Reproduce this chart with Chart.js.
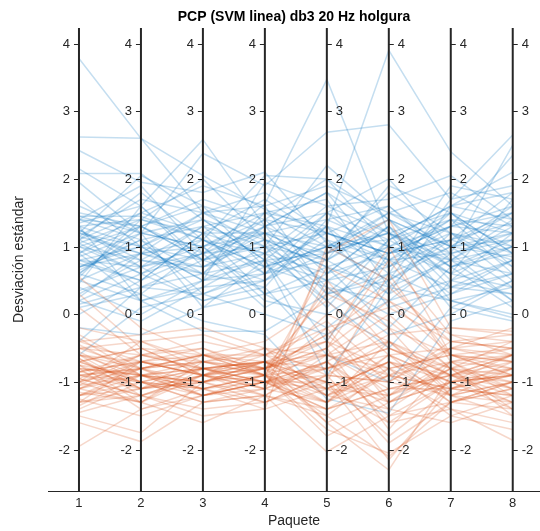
<!DOCTYPE html>
<html>
<head>
<meta charset="utf-8">
<script src="https://cdn.jsdelivr.net/npm/chart.js@4.4.0/dist/chart.umd.min.js"></script>
<style>
  html, body { margin: 0; padding: 0; background: #fff; }
  #wrap { width: 540px; height: 531px; position: relative; }
</style>
</head>
<body>
<div id="wrap"><canvas id="pcp"></canvas></div>
<script>
// Paquetes (ejes paralelos) y marcas del eje Y
const paquetes = [1, 2, 3, 4, 5, 6, 7, 8];
const yTicks = [-2, -1, 0, 1, 2, 3, 4];

// Clase azul (desviación estándar por paquete)
const claseAzul = [
    [3.78, 2.60, 2.05, 1.55, 1.20, 0.90, 1.10, 1.35],
    [2.62, 2.60, 1.50, 1.20, 0.80, 1.40, 1.00, 0.85],
    [2.42, 1.95, 1.80, 2.10, 1.05, 0.70, 1.50, 1.20],
    [2.08, 2.08, 1.40, 0.80, 1.50, 1.10, 0.60, 1.70],
    [2.15, 1.60, 2.58, 1.30, 0.90, 1.20, 0.80, 1.00],
    [1.95, 1.20, 2.38, 1.90, 2.69, 2.80, 1.70, 2.65],
    [1.40, 1.90, 0.90, 1.63, 3.47, 1.20, 0.90, 2.50],
    [1.10, 0.70, 1.30, 1.50, 1.30, 3.90, 2.40, 1.60],
    [1.45, 1.45, 1.10, 2.05, 2.00, 1.00, 1.30, 2.35],
    [1.20, 1.00, 0.50, 1.95, 1.60, 1.70, 2.05, 1.40],
    [0.90, 1.30, 1.60, 0.70, 0.40, 0.20, 0.90, 1.10],
    [0.30, 0.80, 0.70, 1.10, 0.90, 1.50, 1.20, 0.70],
    [1.00, 0.60, 0.20, 0.50, 1.10, 0.80, 0.40, 0.30],
    [0.60, 1.20, 1.00, 0.30, -0.20, 0.50, 1.00, 1.50],
    [1.30, 1.40, 1.20, 1.20, 1.00, 1.10, 1.60, 1.80],
    [0.20, -0.10, 0.40, 0.90, 1.30, 0.60, 0.20, 0.00],
    [0.80, 0.50, 0.90, 0.10, 0.60, 1.30, 0.70, 0.90],
    [1.15, 1.70, 1.50, 1.00, 0.50, 0.00, 0.30, 0.60],
    [0.50, 0.20, -0.25, -0.25, 0.30, 1.10, 1.40, 1.00],
    [-0.40, 0.40, 0.80, 1.30, 1.80, 1.20, 0.60, 0.40],
    [1.40, 1.10, 0.60, 0.40, -0.60, -1.00, 0.10, 0.50],
    [0.70, 0.90, 1.10, 0.90, 0.20, -0.50, 0.50, 1.20],
    [1.00, 1.30, 0.80, 1.40, 1.20, 0.90, 1.10, 0.80],
    [0.40, 0.00, 0.50, 0.60, 1.00, 1.50, 1.80, 1.30],
    [1.60, 1.20, 1.40, 1.10, 0.70, 0.40, 0.80, 0.20],
    [-0.60, 0.10, 0.30, 0.00, -0.30, 0.20, 0.50, 0.80],
    [0.90, 1.50, 1.90, 1.60, 1.90, 1.50, 1.00, 1.60],
    [1.25, 0.80, 0.60, 0.80, 0.50, 0.70, 1.30, 1.50],
    [0.10, 0.30, 1.00, 1.20, 0.80, 1.90, 1.50, 0.90],
    [0.60, 0.30, -0.10, -0.30, -1.25, -1.46, -0.10, 0.20],
    [1.05, 0.60, 0.90, 1.20, 1.40, 1.00, 0.60, 1.00],
    [0.80, 1.00, 1.40, 0.80, 0.90, 1.80, 1.20, 0.50],
    [1.35, 1.60, 0.70, 0.90, 1.60, 1.20, 0.10, -0.10],
    [0.00, 0.50, 1.20, 1.70, 1.10, 0.30, 0.80, 1.40],
    [1.20, 0.90, 1.00, 0.20, 0.00, 0.60, 1.90, 1.70],
    [0.70, 1.10, 0.30, 0.60, 1.50, 2.00, 1.00, 1.10],
    [1.50, 1.30, 1.70, 1.40, 0.60, 0.90, 1.40, 0.60],
    [0.35, 0.70, 0.90, 1.00, 2.20, 1.40, 0.50, 0.30],
    [0.95, 0.40, 0.60, 1.30, 0.40, -0.30, 0.00, 0.50],
    [1.10, 1.80, 1.10, 0.70, 1.00, 0.50, 1.70, 1.90],
    [0.55, 1.40, 2.00, 1.10, 0.20, 0.80, 0.90, 1.20],
    [1.30, 0.20, 0.40, 0.50, 0.90, 1.20, 0.70, 0.10],
    [0.25, 0.90, 0.60, 1.50, 1.70, 0.40, 1.20, 1.00],
    [1.70, 1.00, 1.50, 1.80, 1.20, 1.60, 0.80, 1.30],
    [0.85, 1.20, 0.10, 0.30, 0.70, 1.00, 1.50, 0.70],
    [-0.20, -0.30, 0.10, 0.80, -0.90, 0.40, 0.20, 0.40],
    [1.00, 0.80, 1.30, 0.60, 1.30, 0.10, 0.40, 0.80],
    [0.45, 1.60, 0.80, 1.00, 0.10, 1.10, 1.60, 2.10],
    [1.20, 2.05, 1.60, 1.30, 1.80, 0.70, 1.10, 1.50],
    [0.75, 0.50, 1.20, 0.90, 0.60, 1.30, 0.20, -0.05],
    [0.65, 1.10, 1.30, 1.00, 1.20, 0.90, 1.30, 1.60],
    [1.15, 0.90, 0.70, 1.20, 0.30, 0.60, 1.00, 0.40],
    [0.20, 0.60, 1.10, 0.70, 1.00, 1.40, 0.70, 1.00],
    [1.40, 1.30, 0.90, 1.30, 1.50, 0.80, 1.20, 0.90],
    [0.90, 0.20, 0.50, 0.80, -0.40, 0.90, 1.30, 1.20],
    [1.05, 1.40, 1.10, 0.60, 0.80, 1.30, 0.40, 0.60],
    [0.50, 0.90, 1.50, 1.60, 0.30, 0.50, 1.10, 1.80],
    [1.25, 0.70, 0.20, 0.40, 1.40, 1.60, 0.90, 0.20],
    [0.70, 1.00, 0.80, 1.10, 0.70, -0.20, 0.70, 1.10],
    [1.45, 1.20, 1.00, 1.50, 1.00, 1.20, 1.50, 0.90],
    [0.15, 0.40, 0.30, 0.70, 1.20, 0.80, 1.40, 1.30],
    [1.10, 1.50, 1.20, 0.30, 0.50, 1.00, 0.80, 0.60],
    [0.80, 0.70, 1.00, 1.40, 2.00, 1.40, 1.00, 1.20],
    [1.30, 1.00, 0.50, 1.00, 0.80, 0.30, 1.60, 1.40],
    [0.60, 1.30, 0.80, 0.50, 1.30, 1.00, 0.30, 0.80]
];

// Clase roja
const claseRoja = [
    [-0.80, -0.90, -1.00, -0.90, -0.60, -0.40, -0.90, -1.00],
    [-0.60, -0.70, -0.80, -0.80, -1.00, -1.20, -0.70, -0.50],
    [-1.00, -0.80, -0.70, -0.90, -1.30, -0.90, -1.10, -1.20],
    [-1.30, -1.20, -0.90, -1.00, -0.50, 0.20, -0.60, -0.80],
    [-0.50, -0.60, -0.40, -0.60, -0.20, -1.30, -1.00, -0.90],
    [-0.90, -1.10, -1.00, -0.80, -1.60, -2.30, -0.90, -0.60],
    [-1.95, -1.40, -1.20, -1.10, -0.80, -0.50, -0.80, -1.10],
    [-1.60, -1.88, -1.30, -1.20, -1.50, -2.10, -1.30, -1.40],
    [0.55, -0.20, -0.60, -0.80, -0.30, 0.40, -0.40, -0.30],
    [0.30, -0.50, -0.90, -1.10, 0.90, 1.40, -0.20, -0.25],
    [-0.70, -1.00, -1.10, -1.40, 1.00, 0.50, -0.60, -0.70],
    [-1.20, -0.90, -0.80, -0.70, -1.10, -1.60, -1.40, -1.86],
    [-0.40, -0.30, -0.20, -0.50, -0.90, -1.00, -0.50, -0.40],
    [-1.10, -1.30, -1.60, -1.20, -2.03, -1.50, -1.00, -0.90],
    [-0.85, -0.70, -0.90, -1.00, -0.70, -0.20, -1.20, -1.50],
    [-1.40, -1.00, -1.10, -0.90, -1.20, -0.80, -0.60, -0.70],
    [-0.70, -0.50, -0.60, -0.40, 0.20, -0.60, -1.30, -1.00],
    [-0.95, -1.20, -1.40, -1.30, -1.00, -1.80, -1.10, -0.80],
    [-0.30, -0.80, -1.00, -0.80, -0.50, 0.80, -0.30, -0.60],
    [-1.25, -1.50, -1.20, -1.00, -1.40, -1.10, -0.90, -1.30],
    [-0.60, -0.90, -0.70, -0.60, -0.10, -0.90, -0.70, -1.10],
    [-1.05, -0.60, -0.50, -0.90, -1.70, -2.05, -1.50, -1.20],
    [-0.75, -1.10, -0.90, -1.20, -0.60, 0.00, -0.80, -0.90],
    [-1.50, -1.75, -1.00, -0.70, -0.40, -1.20, -0.50, -0.60],
    [-0.20, -0.40, -0.30, -0.60, -1.10, -0.70, -1.00, -1.40],
    [-0.90, -0.80, -1.20, -1.00, -0.80, -0.30, -0.20, -0.30],
    [-1.15, -1.30, -0.80, -0.70, -1.20, -1.40, -1.60, -1.30],
    [-0.55, -1.00, -1.30, -1.10, 0.50, -0.50, -0.90, -0.70],
    [-0.85, -0.70, -0.60, -0.90, -1.50, -0.80, -1.20, -1.00],
    [-1.35, -0.90, -1.00, -0.80, -0.30, -1.00, -0.40, -0.50],
    [0.10, -0.60, -0.80, -1.00, -0.70, -1.60, -1.00, -0.80],
    [-0.65, -1.20, -0.90, -0.70, -1.00, 0.60, -0.70, -1.20],
    [-1.00, -0.40, -0.70, -0.50, -0.60, -0.90, -1.40, -1.60],
    [-0.45, -0.90, -1.10, -0.90, -1.80, -1.30, -0.80, -0.40],
    [-1.10, -0.70, -0.50, -0.80, 0.00, -0.40, -1.10, -0.90],
    [-0.80, -1.40, -1.10, -1.30, -0.90, -1.90, -1.30, -1.10],
    [-0.70, -0.50, -0.90, -1.10, -1.30, -0.60, -0.50, -0.20],
    [-1.20, -1.10, -0.60, -0.60, -0.40, 1.00, -0.60, -0.90],
    [-0.35, -0.90, -1.20, -1.00, -1.40, -1.10, -0.90, -1.20],
    [-0.95, -0.60, -0.80, -0.70, -0.80, -0.60, -1.00, -0.60],
    [-1.45, -1.20, -1.50, -1.40, -1.10, -0.70, -1.20, -1.00],
    [-0.60, -0.80, -0.60, -0.90, 0.40, -0.20, -0.60, -0.50],
    [-0.90, -1.00, -1.30, -1.20, -0.70, -1.40, -0.80, -1.50],
    [-1.30, -0.70, -0.90, -0.50, -1.20, -0.90, -1.10, -0.70],
    [-0.75, -1.30, -0.70, -0.80, -0.50, -1.70, -0.70, -0.80],
    [-1.05, -0.90, -1.00, -1.30, -0.90, -0.40, -1.20, -1.30],
    [-0.50, -0.40, -0.80, -0.70, -1.60, -1.20, -0.90, -0.60],
    [-0.85, -1.00, -1.20, -0.90, 0.70, 0.20, -0.30, -0.40],
    [-1.20, -0.80, -0.60, -0.70, -0.60, -0.80, -1.50, -1.70],
    [-0.65, -1.10, -0.80, -1.00, -1.00, -1.30, -1.00, -0.90],
    [-0.80, -0.90, -0.80, -0.90, -1.10, -0.70, -0.90, -0.80],
    [-1.00, -0.70, -0.90, -0.80, -0.60, -1.10, -1.10, -1.20],
    [-0.70, -1.00, -0.80, -1.00, -1.30, -0.40, -0.80, -0.60],
    [-1.10, -0.90, -1.10, -0.90, -0.80, -1.50, -1.30, -1.10],
    [-0.90, -0.80, -0.60, -0.80, -0.40, -0.80, -0.60, -0.90],
    [-0.60, -1.10, -1.00, -0.70, -1.20, -0.60, -1.00, -1.30],
    [-1.20, -1.00, -0.80, -1.10, -0.70, -1.30, -0.70, -0.60],
    [-0.85, -0.60, -0.70, -0.80, 0.30, -0.10, -0.80, -1.00],
    [-0.50, -0.80, -1.10, -1.00, -0.90, -1.00, -1.20, -0.80],
    [-1.30, -1.10, -0.90, -0.70, -1.00, -2.15, -1.10, -0.90],
    [-0.95, -1.20, -1.00, -1.20, -1.40, -0.90, -0.50, -0.70],
    [-0.40, -0.70, -0.90, -0.60, -0.80, -0.50, -0.90, -1.10],
    [-1.10, -0.80, -0.70, -0.90, -0.20, 0.10, -0.40, -0.50],
    [-0.75, -0.90, -1.20, -1.00, -1.10, -1.20, -0.80, -1.40],
    [-1.00, -1.30, -0.90, -0.80, -1.30, -0.70, -1.30, -1.00]
];

const colorAzul = 'rgba(0, 114, 189, 0.23)';
const colorRojo = 'rgba(217, 83, 25, 0.23)';
const colorEjes = '#262626';
const fuente = '"Liberation Sans", Arial, Helvetica, sans-serif';

function serie(valores, color) {
    return {
        data: valores.map((v, i) => ({ x: paquetes[i], y: v })),
        borderColor: color,
        borderWidth: 1.5,
        pointRadius: 0,
        tension: 0,
        fill: false
    };
}

// rojo primero en la lista -> se dibuja al final (encima)
const datasets = [
    ...claseRoja.map(v => serie(v, colorRojo)),
    ...claseAzul.map(v => serie(v, colorAzul))
];

// Ejes paralelos, marcas y textos que no da Chart.js directamente
const ejesParalelos = {
    id: 'ejesParalelos',
    afterDatasetsDraw(chart) {
        const { ctx, chartArea, scales: { x, y } } = chart;
        ctx.save();
        ctx.strokeStyle = colorEjes;
        ctx.fillStyle = colorEjes;
        ctx.font = '13px ' + fuente;
        ctx.textBaseline = 'middle';
        paquetes.forEach(p => {
            const px = x.getPixelForValue(p);
            ctx.lineWidth = 2;
            ctx.beginPath();
            ctx.moveTo(px, chartArea.top);
            ctx.lineTo(px, chartArea.bottom);
            ctx.stroke();
            const izquierda = p <= 4;
            ctx.lineWidth = 1;
            ctx.textAlign = izquierda ? 'right' : 'left';
            yTicks.forEach(t => {
                const py = Math.round(y.getPixelForValue(t)) + 0.5;
                ctx.beginPath();
                if (izquierda) {
                    ctx.moveTo(px - 5, py);
                    ctx.lineTo(px, py);
                } else {
                    ctx.moveTo(px, py);
                    ctx.lineTo(px + 5, py);
                }
                ctx.stroke();
                ctx.fillText(String(t), izquierda ? px - 9 : px + 9, py);
            });
        });
        // título
        const cx = (chartArea.left + chartArea.right) / 2;
        ctx.fillStyle = '#000';
        ctx.textAlign = 'center';
        ctx.font = 'bold 14px ' + fuente;
        ctx.fillText('PCP (SVM linea) db3 20 Hz holgura', cx, 17);
        // etiqueta eje Y
        ctx.fillStyle = colorEjes;
        ctx.font = '14px ' + fuente;
        ctx.translate(19, (chartArea.top + chartArea.bottom) / 2);
        ctx.rotate(-Math.PI / 2);
        ctx.fillText('Desviación estándar', 0, 0);
        ctx.restore();
    }
};

const chart = new Chart(document.getElementById('pcp').getContext('2d'), {
    type: 'line',
    data: { datasets },
    options: {
        responsive: true,
        maintainAspectRatio: false,
        animation: false,
        layout: { padding: { top: 28, left: 48, right: 0, bottom: 0 } },
        plugins: {
            legend: { display: false },
            tooltip: { enabled: false }
        },
        scales: {
            x: {
                type: 'linear',
                min: 0.5,
                max: 8.44,
                afterBuildTicks: scale => {
                    scale.ticks = paquetes.map(v => ({ value: v }));
                },
                afterFit: scale => {
                    scale.height = 40;
                },
                grid: { display: false, drawTicks: false },
                border: { display: true, color: colorEjes, width: 1 },
                ticks: {
                    color: colorEjes,
                    padding: 5,
                    font: { family: fuente, size: 13 },
                    maxRotation: 0
                },
                title: {
                    display: true,
                    text: 'Paquete',
                    color: colorEjes,
                    padding: { top: 0, bottom: 1 },
                    font: { family: fuente, size: 14 }
                }
            },
            y: {
                display: false,
                min: -2.61,
                max: 4.23
            }
        }
    },
    plugins: [ejesParalelos]
});
</script>
</body>
</html>
